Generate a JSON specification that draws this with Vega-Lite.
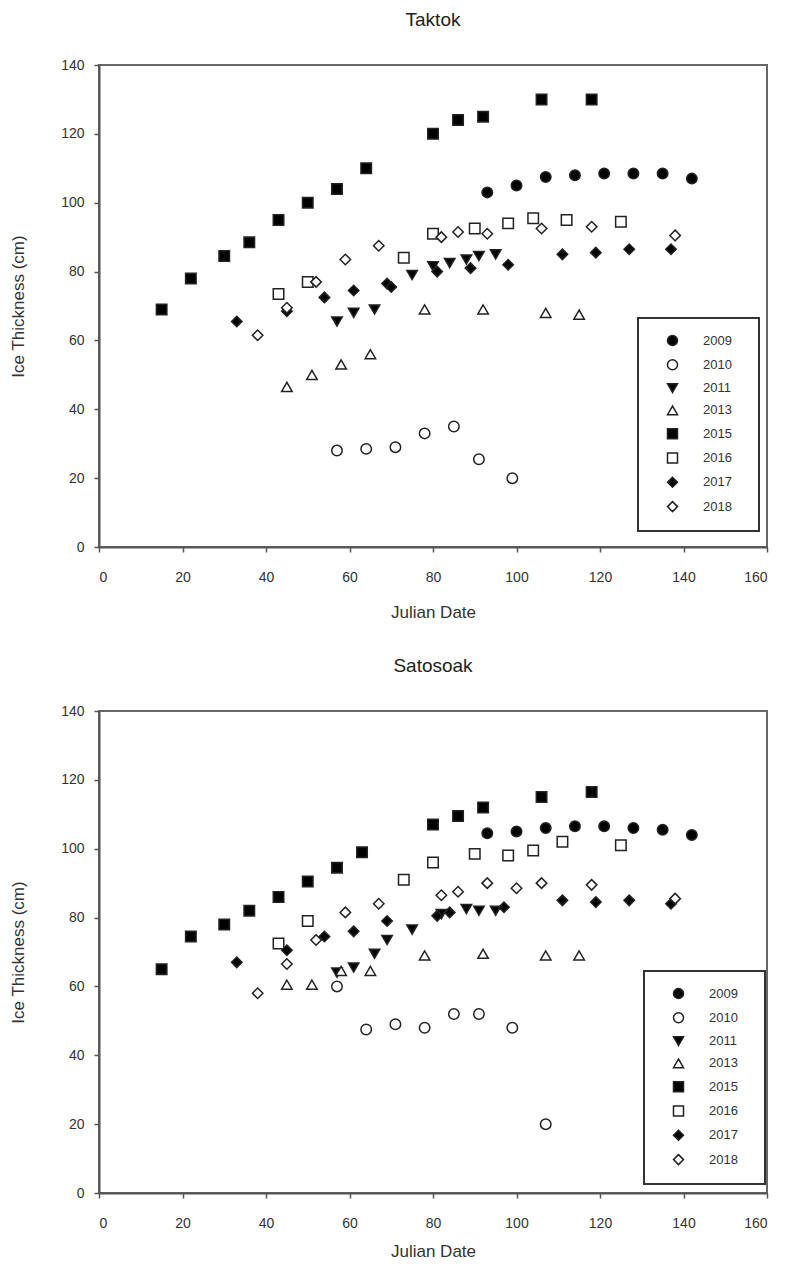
{
  "$schema": "https://vega.github.io/schema/vega-lite/v6.json",
  "background": "white",
  "padding": {"left": 8, "top": 10, "right": 5, "bottom": 5},
  "spacing": 35,
  "datasets": {
    "taktok": [
      {"year": "2009", "day": 93, "thickness": 103},
      {"year": "2009", "day": 100, "thickness": 105},
      {"year": "2009", "day": 107, "thickness": 107.5},
      {"year": "2009", "day": 114, "thickness": 108},
      {"year": "2009", "day": 121, "thickness": 108.5},
      {"year": "2009", "day": 128, "thickness": 108.5},
      {"year": "2009", "day": 135, "thickness": 108.5},
      {"year": "2009", "day": 142, "thickness": 107},
      {"year": "2010", "day": 57, "thickness": 28},
      {"year": "2010", "day": 64, "thickness": 28.5},
      {"year": "2010", "day": 71, "thickness": 29},
      {"year": "2010", "day": 78, "thickness": 33},
      {"year": "2010", "day": 85, "thickness": 35},
      {"year": "2010", "day": 91, "thickness": 25.5},
      {"year": "2010", "day": 99, "thickness": 20},
      {"year": "2011", "day": 57, "thickness": 65.5},
      {"year": "2011", "day": 61, "thickness": 68},
      {"year": "2011", "day": 66, "thickness": 69},
      {"year": "2011", "day": 75, "thickness": 79},
      {"year": "2011", "day": 80, "thickness": 81.5},
      {"year": "2011", "day": 84, "thickness": 82.5},
      {"year": "2011", "day": 88, "thickness": 83.5},
      {"year": "2011", "day": 91, "thickness": 84.5},
      {"year": "2011", "day": 95, "thickness": 85},
      {"year": "2013", "day": 45, "thickness": 46.5},
      {"year": "2013", "day": 51, "thickness": 50},
      {"year": "2013", "day": 58, "thickness": 53},
      {"year": "2013", "day": 65, "thickness": 56},
      {"year": "2013", "day": 78, "thickness": 69},
      {"year": "2013", "day": 92, "thickness": 69},
      {"year": "2013", "day": 107, "thickness": 68},
      {"year": "2013", "day": 115, "thickness": 67.5},
      {"year": "2015", "day": 15, "thickness": 69},
      {"year": "2015", "day": 22, "thickness": 78},
      {"year": "2015", "day": 30, "thickness": 84.5},
      {"year": "2015", "day": 36, "thickness": 88.5},
      {"year": "2015", "day": 43, "thickness": 95},
      {"year": "2015", "day": 50, "thickness": 100},
      {"year": "2015", "day": 57, "thickness": 104},
      {"year": "2015", "day": 64, "thickness": 110},
      {"year": "2015", "day": 80, "thickness": 120},
      {"year": "2015", "day": 86, "thickness": 124},
      {"year": "2015", "day": 92, "thickness": 125},
      {"year": "2015", "day": 106, "thickness": 130},
      {"year": "2015", "day": 118, "thickness": 130},
      {"year": "2016", "day": 43, "thickness": 73.5},
      {"year": "2016", "day": 50, "thickness": 77},
      {"year": "2016", "day": 73, "thickness": 84},
      {"year": "2016", "day": 80, "thickness": 91},
      {"year": "2016", "day": 90, "thickness": 92.5},
      {"year": "2016", "day": 98, "thickness": 94},
      {"year": "2016", "day": 104, "thickness": 95.5},
      {"year": "2016", "day": 112, "thickness": 95},
      {"year": "2016", "day": 125, "thickness": 94.5},
      {"year": "2017", "day": 33, "thickness": 65.5},
      {"year": "2017", "day": 45, "thickness": 68.5},
      {"year": "2017", "day": 54, "thickness": 72.5},
      {"year": "2017", "day": 61, "thickness": 74.5},
      {"year": "2017", "day": 69, "thickness": 76.5},
      {"year": "2017", "day": 70, "thickness": 75.5},
      {"year": "2017", "day": 81, "thickness": 80},
      {"year": "2017", "day": 89, "thickness": 81},
      {"year": "2017", "day": 98, "thickness": 82},
      {"year": "2017", "day": 111, "thickness": 85},
      {"year": "2017", "day": 119, "thickness": 85.5},
      {"year": "2017", "day": 127, "thickness": 86.5},
      {"year": "2017", "day": 137, "thickness": 86.5},
      {"year": "2018", "day": 38, "thickness": 61.5},
      {"year": "2018", "day": 45, "thickness": 69.5},
      {"year": "2018", "day": 52, "thickness": 77},
      {"year": "2018", "day": 59, "thickness": 83.5},
      {"year": "2018", "day": 67, "thickness": 87.5},
      {"year": "2018", "day": 82, "thickness": 90},
      {"year": "2018", "day": 86, "thickness": 91.5},
      {"year": "2018", "day": 93, "thickness": 91},
      {"year": "2018", "day": 106, "thickness": 92.5},
      {"year": "2018", "day": 118, "thickness": 93},
      {"year": "2018", "day": 138, "thickness": 90.5}
    ],
    "satosoak": [
      {"year": "2009", "day": 93, "thickness": 104.5},
      {"year": "2009", "day": 100, "thickness": 105},
      {"year": "2009", "day": 107, "thickness": 106},
      {"year": "2009", "day": 114, "thickness": 106.5},
      {"year": "2009", "day": 121, "thickness": 106.5},
      {"year": "2009", "day": 128, "thickness": 106},
      {"year": "2009", "day": 135, "thickness": 105.5},
      {"year": "2009", "day": 142, "thickness": 104},
      {"year": "2010", "day": 57, "thickness": 60},
      {"year": "2010", "day": 64, "thickness": 47.5},
      {"year": "2010", "day": 71, "thickness": 49},
      {"year": "2010", "day": 78, "thickness": 48},
      {"year": "2010", "day": 85, "thickness": 52},
      {"year": "2010", "day": 91, "thickness": 52},
      {"year": "2010", "day": 99, "thickness": 48},
      {"year": "2010", "day": 107, "thickness": 20},
      {"year": "2011", "day": 57, "thickness": 64},
      {"year": "2011", "day": 61, "thickness": 65.5},
      {"year": "2011", "day": 66, "thickness": 69.5},
      {"year": "2011", "day": 69, "thickness": 73.5},
      {"year": "2011", "day": 75, "thickness": 76.5},
      {"year": "2011", "day": 82, "thickness": 81},
      {"year": "2011", "day": 88, "thickness": 82.5},
      {"year": "2011", "day": 91, "thickness": 82},
      {"year": "2011", "day": 95, "thickness": 82},
      {"year": "2013", "day": 45, "thickness": 60.5},
      {"year": "2013", "day": 51, "thickness": 60.5},
      {"year": "2013", "day": 58, "thickness": 64.5},
      {"year": "2013", "day": 65, "thickness": 64.5},
      {"year": "2013", "day": 78, "thickness": 69},
      {"year": "2013", "day": 92, "thickness": 69.5},
      {"year": "2013", "day": 107, "thickness": 69},
      {"year": "2013", "day": 115, "thickness": 69},
      {"year": "2015", "day": 15, "thickness": 65},
      {"year": "2015", "day": 22, "thickness": 74.5},
      {"year": "2015", "day": 30, "thickness": 78},
      {"year": "2015", "day": 36, "thickness": 82},
      {"year": "2015", "day": 43, "thickness": 86},
      {"year": "2015", "day": 50, "thickness": 90.5},
      {"year": "2015", "day": 57, "thickness": 94.5},
      {"year": "2015", "day": 63, "thickness": 99},
      {"year": "2015", "day": 80, "thickness": 107},
      {"year": "2015", "day": 86, "thickness": 109.5},
      {"year": "2015", "day": 92, "thickness": 112},
      {"year": "2015", "day": 106, "thickness": 115},
      {"year": "2015", "day": 118, "thickness": 116.5},
      {"year": "2016", "day": 43, "thickness": 72.5},
      {"year": "2016", "day": 50, "thickness": 79},
      {"year": "2016", "day": 73, "thickness": 91},
      {"year": "2016", "day": 80, "thickness": 96},
      {"year": "2016", "day": 90, "thickness": 98.5},
      {"year": "2016", "day": 98, "thickness": 98},
      {"year": "2016", "day": 104, "thickness": 99.5},
      {"year": "2016", "day": 111, "thickness": 102},
      {"year": "2016", "day": 125, "thickness": 101},
      {"year": "2017", "day": 33, "thickness": 67},
      {"year": "2017", "day": 45, "thickness": 70.5},
      {"year": "2017", "day": 54, "thickness": 74.5},
      {"year": "2017", "day": 61, "thickness": 76},
      {"year": "2017", "day": 69, "thickness": 79},
      {"year": "2017", "day": 81, "thickness": 80.5},
      {"year": "2017", "day": 84, "thickness": 81.5},
      {"year": "2017", "day": 97, "thickness": 83},
      {"year": "2017", "day": 111, "thickness": 85},
      {"year": "2017", "day": 119, "thickness": 84.5},
      {"year": "2017", "day": 127, "thickness": 85},
      {"year": "2017", "day": 137, "thickness": 84},
      {"year": "2018", "day": 38, "thickness": 58},
      {"year": "2018", "day": 45, "thickness": 66.5},
      {"year": "2018", "day": 52, "thickness": 73.5},
      {"year": "2018", "day": 59, "thickness": 81.5},
      {"year": "2018", "day": 67, "thickness": 84},
      {"year": "2018", "day": 82, "thickness": 86.5},
      {"year": "2018", "day": 86, "thickness": 87.5},
      {"year": "2018", "day": 93, "thickness": 90},
      {"year": "2018", "day": 100, "thickness": 88.5},
      {"year": "2018", "day": 106, "thickness": 90},
      {"year": "2018", "day": 118, "thickness": 89.5},
      {"year": "2018", "day": 138, "thickness": 85.5}
    ]
  },
  "vconcat": [
    {
      "title": "Taktok",
      "width": 668,
      "height": 482,
      "data": {"name": "taktok"},
      "mark": {"type": "point", "strokeWidth": 1.5, "size": 110, "opacity": 1},
      "encoding": {
        "x": {"field": "day", "type": "quantitative", "title": "Julian Date", "scale": {"domain": [0, 160], "nice": false}, "axis": {"values": [0, 20, 40, 60, 80, 100, 120, 140, 160]}},
        "y": {"field": "thickness", "type": "quantitative", "title": "Ice Thickness (cm)", "scale": {"domain": [0, 140], "nice": false}, "axis": {"values": [0, 20, 40, 60, 80, 100, 120, 140]}},
        "shape": {"field": "year", "type": "nominal", "scale": {"domain": ["2009", "2010", "2011", "2013", "2015", "2016", "2017", "2018"], "range": ["circle", "circle", "triangle-down", "triangle-up", "square", "square", "diamond", "diamond"]}, "legend": {"title": " ", "titleOrient": "right", "titlePadding": 11, "orient": "none", "legendX": 539, "legendY": 253}},
        "fill": {"field": "year", "type": "nominal", "scale": {"domain": ["2009", "2010", "2011", "2013", "2015", "2016", "2017", "2018"], "range": ["black", "white", "black", "white", "black", "white", "black", "white"]}, "legend": {"title": " ", "titleOrient": "right", "titlePadding": 11, "orient": "none", "legendX": 539, "legendY": 253}},
        "stroke": {"field": "year", "type": "nominal", "scale": {"domain": ["2009", "2010", "2011", "2013", "2015", "2016", "2017", "2018"], "range": ["#222", "#222", "#222", "#222", "#222", "#222", "#222", "#222"]}, "legend": {"title": " ", "titleOrient": "right", "titlePadding": 11, "orient": "none", "legendX": 539, "legendY": 253}}
      }
    },
    {
      "title": "Satosoak",
      "width": 668,
      "height": 482,
      "data": {"name": "satosoak"},
      "mark": {"type": "point", "strokeWidth": 1.5, "size": 110, "opacity": 1},
      "encoding": {
        "x": {"field": "day", "type": "quantitative", "title": "Julian Date", "scale": {"domain": [0, 160], "nice": false}, "axis": {"values": [0, 20, 40, 60, 80, 100, 120, 140, 160], "titlePadding": 13}},
        "y": {"field": "thickness", "type": "quantitative", "title": "Ice Thickness (cm)", "scale": {"domain": [0, 140], "nice": false}, "axis": {"values": [0, 20, 40, 60, 80, 100, 120, 140]}},
        "shape": {"field": "year", "type": "nominal", "scale": {"domain": ["2009", "2010", "2011", "2013", "2015", "2016", "2017", "2018"], "range": ["circle", "circle", "triangle-down", "triangle-up", "square", "square", "diamond", "diamond"]}, "legend": {"title": " ", "titleOrient": "right", "titlePadding": 11, "orient": "none", "legendX": 545, "legendY": 260}},
        "fill": {"field": "year", "type": "nominal", "scale": {"domain": ["2009", "2010", "2011", "2013", "2015", "2016", "2017", "2018"], "range": ["black", "white", "black", "white", "black", "white", "black", "white"]}, "legend": {"title": " ", "titleOrient": "right", "titlePadding": 11, "orient": "none", "legendX": 545, "legendY": 260}},
        "stroke": {"field": "year", "type": "nominal", "scale": {"domain": ["2009", "2010", "2011", "2013", "2015", "2016", "2017", "2018"], "range": ["#222", "#222", "#222", "#222", "#222", "#222", "#222", "#222"]}, "legend": {"title": " ", "titleOrient": "right", "titlePadding": 11, "orient": "none", "legendX": 545, "legendY": 260}}
      }
    }
  ],
  "resolve": {"scale": {"shape": "independent", "fill": "independent", "stroke": "independent"}, "legend": {"shape": "independent", "fill": "independent", "stroke": "independent"}},
  "config": {
    "font": "Liberation Sans",
    "view": {"stroke": "#666", "strokeWidth": 2},
    "title": {"fontSize": 19, "fontWeight": "normal", "color": "#222", "font": "Liberation Sans", "offset": 28},
    "axis": {
      "grid": false,
      "domainColor": "#555",
      "domainWidth": 2,
      "tickColor": "#555",
      "tickWidth": 1.5,
      "tickSize": 5,
      "labelFont": "Liberation Sans",
      "labelFontSize": 14,
      "labelColor": "#333",
      "titleFont": "Liberation Sans",
      "titleFontSize": 17,
      "titleFontWeight": "normal",
      "titleColor": "#333"
    },
    "axisX": {"labelPadding": 18, "titlePadding": 20},
    "axisY": {"labelPadding": 10, "titlePadding": 33},
    "legend": {
      "strokeColor": "#333",
      "strokeWidth": 2,
      "fillColor": "white",
      "padding": 16,
      "symbolOffset": 12,
      "labelOffset": 24,
      "labelFont": "Liberation Sans",
      "labelFontSize": 13,
      "labelColor": "#333",
      "titleFontSize": 13,
      "rowPadding": 7.3,
      "symbolSize": 100,
      "symbolStrokeWidth": 1.5
    }
  }
}
